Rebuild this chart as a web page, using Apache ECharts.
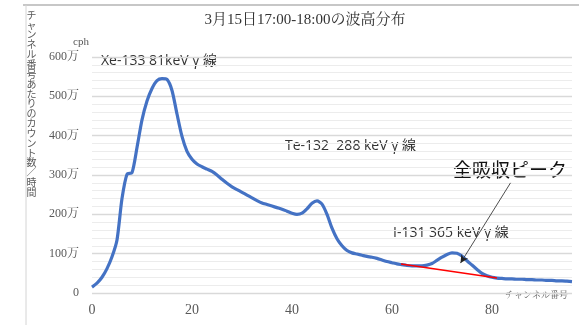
<!DOCTYPE html>
<html>
<head>
<meta charset="utf-8">
<script src="https://cdn.jsdelivr.net/npm/echarts@6/dist/echarts.min.js"></script>
<style>
html,body{margin:0;padding:0;background:#fff;}
#c{width:579px;height:325px;}
</style>
</head>
<body>
<div id="c"></div>
<script>
// ---- data ----
const titleText = '3月15日17:00-18:00の波高分布';
const yAxisTitle = 'チャンネル番号あたりのカウント数／時間';
const xAxisTitle = 'チャンネル番号';
const yUnit = 'cph';
const xTicks = [0, 20, 40, 60, 80];
const yTicks = [0, 100, 200, 300, 400, 500, 600]; // 万 cph
const channels = [0,1,2,3,4,5,6,7,8,9,10,11,12,13,14,15,16,17,18,19,20,21,22,23,24,25,26,27,28,29,30,31,32,33,34,35,36,37,38,39,40,41,42,43,44,45,46,47,48,49,50,51,52,53,54,55,56,57,58,59,60,61,62,63,64,65,66,67,68,69,70,71,72,73,74,75,76,77,78,79,80,81,82,83,84,85,86,87,88,89,90,91,92,93,94,95,96];
// counts per hour, in units of 万 (10^4)
const counts = [15,25,40,62,92,135,240,302,306,370,440,488,520,540,545,543,515,455,398,360,340,328,321,315,309,300,289,279,270,263,256,249,242,235,229,225,221,217,213,208,203,200,203,214,228,234,226,200,165,138,120,108,102,99,96,93,91,88,84,80,77,74,72,70,69,69,69,71,75,83,91,98,102,101,94,82,71,60,50,44,40,38,37,36,36,35,35,34,34,33,33,32,32,31,31,30,29];
// baseline under the I-131 full-absorption peak
const baseX = [61.8, 81];
const baseY = [73.8, 38];
// arrow from label to peak (channel, 万)
const arrowFrom = [83.7, 280];
const arrowTo = [73.7, 76];
const annotations = [
  {text: 'Xe-133 81keV γ 線', x: 101, y: 61},
  {text: 'Te-132  288 keV γ 線', x: 285, y: 146},
  {text: 'I-131 365 keV γ 線', x: 393, y: 233}
];
const peakLabel = '全吸収ピーク';

// ---- chart ----
const chart = echarts.init(document.getElementById('c'), null, {renderer: 'canvas'});
const serif = '"Liberation Serif", "Noto Serif CJK JP", "Noto Sans CJK JP", serif';
const sans = '"Noto Sans CJK JP", "Open Sans", sans-serif';

const curve = channels.map((c, i) => [c, counts[i]]);
const baseline = baseX.map((x, i) => [x, baseY[i]]);

const graphics = [
  {type: 'line', shape: {x1: 23, y1: 5, x2: 579, y2: 5}, style: {stroke: '#b4b4b4', lineWidth: 1.5}, silent: true},
  {type: 'line', shape: {x1: 26, y1: 5, x2: 26, y2: 325}, style: {stroke: '#d4d4d4', lineWidth: 1}, silent: true},
  {type: 'text', x: 305, y: 20, style: {text: titleText, font: '15px ' + serif, fill: '#333', textAlign: 'center', textVerticalAlign: 'middle'}},
  {type: 'text', x: 31.5, y: 10, style: {text: yAxisTitle.split('').join('\n'), font: '10px ' + sans, lineHeight: 9.85, fill: '#595959', textAlign: 'center', textVerticalAlign: 'top'}},
  {type: 'text', x: 81, y: 42, style: {text: yUnit, font: '11px ' + serif, fill: '#595959', textAlign: 'center', textVerticalAlign: 'middle'}},
  {type: 'text', x: 568, y: 296, style: {text: xAxisTitle, font: '9px ' + serif, fill: '#595959', textAlign: 'right', textVerticalAlign: 'middle'}},
  {type: 'text', x: 510, y: 170, style: {text: peakLabel, font: '19px ' + sans, fill: '#111', textAlign: 'center', textVerticalAlign: 'middle'}}
];
annotations.forEach(a => graphics.push({type: 'text', x: a.x, y: a.y, style: {text: a.text, font: '14px "Open Sans", "Noto Sans CJK JP", sans-serif', fill: '#333', textAlign: 'left', textVerticalAlign: 'middle'}}));

chart.setOption({
  animation: false,
  grid: {left: 92, right: 7, top: 57, bottom: 32},
  xAxis: {
    type: 'value', min: 0, max: 96, interval: 20,
    axisLine: {show: false}, axisTick: {show: false}, splitLine: {show: false},
    axisLabel: {
      margin: 10, color: '#595959', fontSize: 14, fontFamily: serif,
      showMaxLabel: false,
      formatter: v => xTicks.includes(v) ? String(v) : ''
    }
  },
  yAxis: {
    type: 'value', min: 0, max: 600, interval: 100,
    axisLine: {show: false}, axisTick: {show: false},
    splitLine: {show: true, lineStyle: {color: '#d9d9d9', width: 1.3}},
    minorTick: {show: false, splitNumber: 5},
    minorSplitLine: {show: true, lineStyle: {color: '#ececec', width: 1}},
    axisLabel: {
      margin: 13, color: '#595959', fontSize: 12, fontFamily: serif,
      formatter: v => yTicks.includes(v) ? (v === 0 ? '0' : v + '万') : ''
    }
  },
  series: [
    {
      type: 'line', data: curve, smooth: 0.25, symbol: 'none',
      lineStyle: {color: '#4472C4', width: 3.2}, z: 3
    },
    {
      type: 'line', data: baseline, symbol: 'none',
      lineStyle: {color: '#ff0000', width: 1.6}, z: 4,
      markLine: {
        silent: true, symbol: ['none', 'arrow'], symbolSize: [6, 8],
        label: {show: false},
        lineStyle: {color: '#222', width: 0.8, type: 'solid'},
        data: [[{coord: arrowFrom}, {coord: arrowTo}]]
      }
    }
  ],
  graphic: graphics
});
</script>
</body>
</html>
